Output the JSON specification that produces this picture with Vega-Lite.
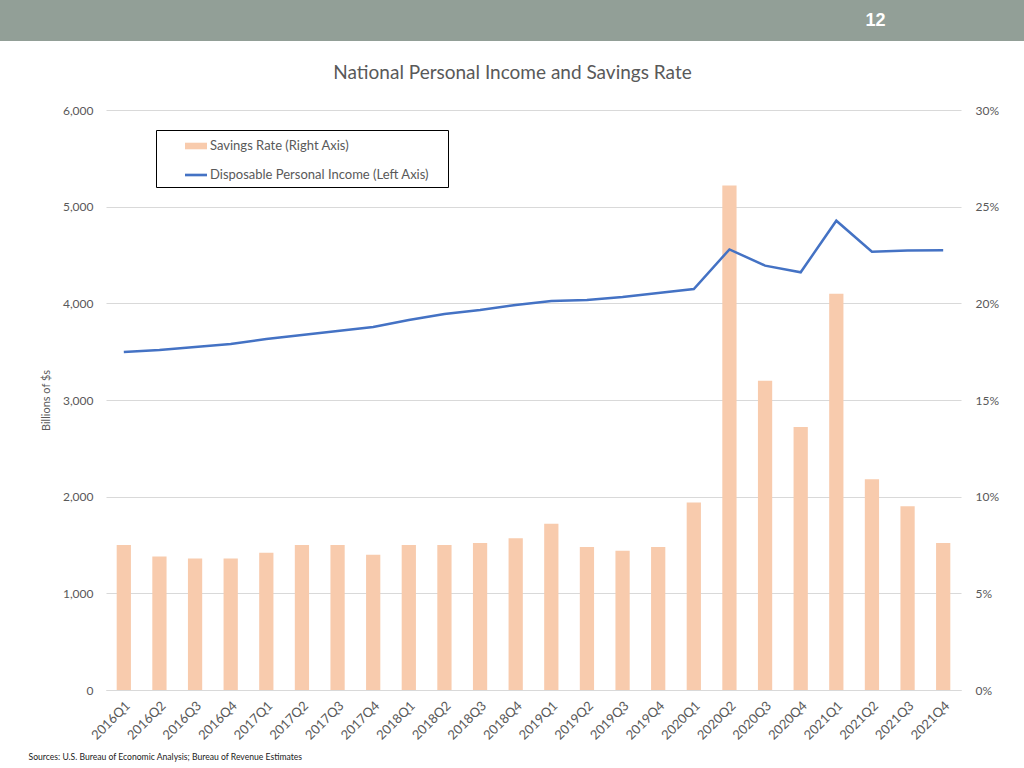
{
  "$schema": "https://vega.github.io/schema/vega-lite/v6.json",
  "width": 855,
  "height": 580,
  "autosize": {"type": "none"},
  "padding": {"left": 106, "top": 110, "right": 63, "bottom": 78},
  "background": "white",
  "config": {
    "font": "Lato",
    "view": {"stroke": null},
    "axis": {
      "labelFont": "Lato",
      "labelFontSize": 12,
      "labelColor": "#595959",
      "domain": false,
      "ticks": false,
      "gridColor": "#D9D9D9",
      "gridWidth": 1,
      "titleFont": "Lato",
      "titleFontWeight": "normal",
      "titleColor": "#595959"
    }
  },
  "title": {
    "text": "National Personal Income and Savings Rate",
    "fontSize": 19,
    "fontWeight": "normal",
    "font": "Lato",
    "color": "#595959",
    "anchor": "middle",
    "offset": 27,
    "dy": 110,
    "dx": -21
  },
  "data": {
    "values": [
      {"quarter": "2016Q1", "income": 3497, "savings": 0.075},
      {"quarter": "2016Q2", "income": 3517, "savings": 0.069},
      {"quarter": "2016Q3", "income": 3548, "savings": 0.068},
      {"quarter": "2016Q4", "income": 3580, "savings": 0.068},
      {"quarter": "2017Q1", "income": 3630, "savings": 0.071},
      {"quarter": "2017Q2", "income": 3672, "savings": 0.075},
      {"quarter": "2017Q3", "income": 3714, "savings": 0.075},
      {"quarter": "2017Q4", "income": 3755, "savings": 0.070},
      {"quarter": "2018Q1", "income": 3827, "savings": 0.075},
      {"quarter": "2018Q2", "income": 3890, "savings": 0.075},
      {"quarter": "2018Q3", "income": 3931, "savings": 0.076},
      {"quarter": "2018Q4", "income": 3983, "savings": 0.0785},
      {"quarter": "2019Q1", "income": 4024, "savings": 0.086},
      {"quarter": "2019Q2", "income": 4034, "savings": 0.074},
      {"quarter": "2019Q3", "income": 4066, "savings": 0.072},
      {"quarter": "2019Q4", "income": 4107, "savings": 0.074},
      {"quarter": "2020Q1", "income": 4148, "savings": 0.097},
      {"quarter": "2020Q2", "income": 4558, "savings": 0.261},
      {"quarter": "2020Q3", "income": 4390, "savings": 0.160},
      {"quarter": "2020Q4", "income": 4321, "savings": 0.136},
      {"quarter": "2021Q1", "income": 4855, "savings": 0.205},
      {"quarter": "2021Q2", "income": 4534, "savings": 0.109},
      {"quarter": "2021Q3", "income": 4546, "savings": 0.095},
      {"quarter": "2021Q4", "income": 4548, "savings": 0.076}
    ]
  },
  "layer": [
    {
      "data": {"values": [{"band": "header"}]},
      "mark": {"type": "rect", "color": "#929F97"},
      "encoding": {
        "x": {"value": -106},
        "x2": {"value": 918},
        "y": {"value": -110},
        "y2": {"value": -69}
      }
    },
    {
      "mark": {"type": "bar"},
      "encoding": {
        "x": {
          "field": "quarter",
          "type": "ordinal",
          "sort": null,
          "scale": {"paddingInner": 0.6, "paddingOuter": 0.3},
          "axis": {
            "labelAngle": -45,
            "labelPadding": 9,
            "labelFontSize": 13,
            "domain": true,
            "domainColor": "#D9D9D9",
            "grid": false,
            "title": "Sources: U.S. Bureau of Economic Analysis; Bureau of Revenue Estimates",
            "titleFontSize": 8.6,
            "titleColor": "#222222",
            "titleAnchor": "start",
            "titleAlign": "left",
            "titleBaseline": "middle",
            "titleX": -78,
            "titleY": 66
          }
        },
        "y": {
          "field": "savings",
          "type": "quantitative",
          "scale": {"domain": [0, 0.3]},
          "axis": {
            "orient": "right",
            "values": [0, 0.05, 0.1, 0.15, 0.2, 0.25, 0.3],
            "format": ".0%",
            "grid": false,
            "labelPadding": 14,
            "zindex": 1,
            "title": "12",
            "titleAngle": 0,
            "titleX": -86,
            "titleY": -90,
            "titleAlign": "center",
            "titleBaseline": "middle",
            "titleFont": "Liberation Sans",
            "titleFontSize": 18,
            "titleFontWeight": "bold",
            "titleColor": "white"
          }
        },
        "color": {
          "datum": "Savings Rate (Right Axis)",
          "type": "nominal",
          "scale": {
            "domain": ["Savings Rate (Right Axis)", "Disposable Personal Income (Left Axis)"],
            "range": ["#F8CBAD", "#4472C4"]
          },
          "legend": {
            "orient": "none",
            "legendX": 50,
            "legendY": 20,
            "title": null,
            "strokeColor": "black",
            "fillColor": "white",
            "padding": 5,
            "symbolSize": 484,
            "rowPadding": 11,
            "labelFont": "Lato",
            "labelFontSize": 13,
            "labelColor": "#595959",
            "labelOffset": 3,
            "labelLimit": 400,
            "symbolOffset": 24,
            "labelExpr": "datum.label + '\u00a0\u00a0\u00a0\u00a0\u200b'",
            "encode": {
              "symbols": {
                "update": {
                  "shape": {"signal": "datum.value === 'Savings Rate (Right Axis)' ? 'M-1,-0.3H1V0.3H-1Z' : 'M-1,-0.12H1V0.12H-1Z'"},
                  "fill": {"signal": "datum.value === 'Savings Rate (Right Axis)' ? '#F8CBAD' : '#4472C4'"},
                  "fillOpacity": {"value": 1},
                  "strokeWidth": {"value": 0}
                }
              }
            }
          }
        }
      }
    },
    {
      "mark": {"type": "line", "strokeWidth": 2.5},
      "encoding": {
        "x": {"field": "quarter", "type": "ordinal", "sort": null},
        "y": {
          "field": "income",
          "type": "quantitative",
          "scale": {"domain": [0, 6000]},
          "axis": {
            "orient": "left",
            "values": [0, 1000, 2000, 3000, 4000, 5000, 6000],
            "format": ",.0f",
            "grid": true,
            "labelPadding": 13,
            "title": "Billions of $s",
            "titleFontSize": 11,
            "titlePadding": 11
          }
        },
        "color": {"datum": "Disposable Personal Income (Left Axis)", "type": "nominal"}
      }
    }
  ],
  "resolve": {"scale": {"y": "independent"}}
}
